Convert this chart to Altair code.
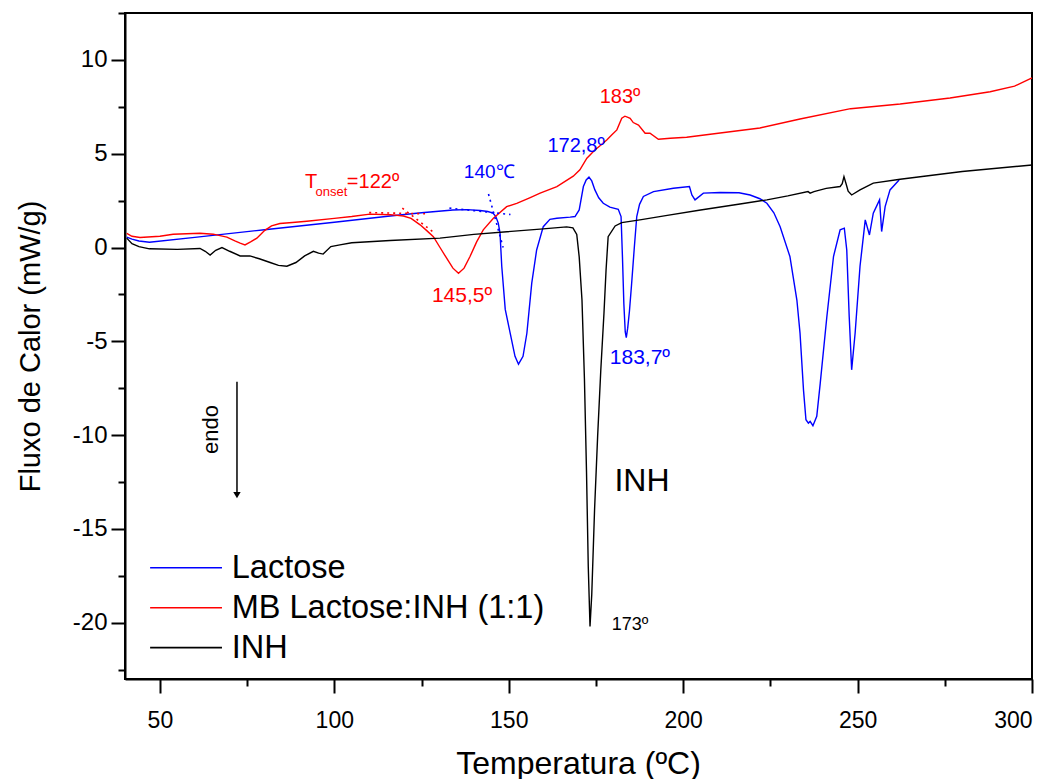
import altair as alt
import pandas as pd

# ---------------- data ----------------
series_names = ["Lactose", "MB Lactose:INH (1:1)", "INH"]
series_colors = ["#0000ff", "#ff0000", "#000000"]

lac_t = [40.5, 42, 44, 47, 60, 80, 100, 116, 125, 134, 138, 141.8, 144, 145.5, 146.3, 147, 147.5, 148, 149,
         150.4, 151.8, 152.8, 154.1, 155.2, 156.6, 158, 159.9, 161.8, 163.8, 167.6, 169, 170.2, 171.4, 172.2,
         173, 173.8, 174.7, 175.8, 177.1, 179, 181.4, 182.2, 182.6, 183.0, 183.4, 183.7, 184.1, 184.6, 185.2,
         186.0, 186.7, 187.5, 188.6, 191.5, 197.2, 201.8, 202.5, 203.4, 205.8, 210.6, 216, 219.2, 222, 224, 226,
         227.8, 230.6, 232.6, 233.5, 234.5, 235.2, 235.9, 236.4, 237.2, 238.3, 239.3, 241.2, 243.1, 245, 246.2,
         246.9, 247.6, 248.3, 249.3, 250.7, 252.2, 253.4, 254.5, 256.3, 256.9, 257.9, 259.3, 261.9]
lac_y = [0.55, 0.45, 0.35, 0.28, 0.54, 0.95, 1.35, 1.68, 1.85, 2.0, 2.02, 1.97, 1.92, 1.83, 1.65, 1.3, 0.78, -1.0, -3.3,
         -4.55, -5.8, -6.22, -5.8, -4.57, -1.9, -0.13, 1.11, 1.5, 1.56, 1.62, 1.65, 2.0, 3.25, 3.6,
         3.75, 3.55, 3.07, 2.65, 2.36, 2.15, 2.04, 1.65, -0.5, -3.0, -4.5, -4.8, -4.3, -3.4, -2.0,
         0.0, 1.65, 2.3, 2.72, 2.98, 3.16, 3.25, 2.8, 2.54, 2.9, 2.93, 2.92, 2.8, 2.6, 2.36, 1.85,
         1.11, -0.48, -2.8, -4.56, -7.6, -9.18, -9.36, -9.27, -9.5, -9.0, -7.23, -3.68, -0.48, 0.94, 1.03,
         -0.13, -3.68, -6.52, -4.56, -1.0, 1.47, 0.67, 1.83, 2.54, 0.85, 2.18, 3.07, 3.6]

mb_t = [40.5, 42, 44.3, 50, 53.8, 61.5, 65.3, 69.2, 71.5, 73, 74.4, 76, 77.8, 80, 82, 84.4, 88, 92.1, 100, 105,
        110.2, 116, 119.8, 122, 124.6, 126.5, 128.4, 130.3, 132.2, 134, 135.6, 137.2, 138.9, 140.8, 142.7,
        145.6, 149.4, 152.3, 156, 159, 163.8, 168.5, 170.4, 172.4, 174.7, 176, 178.1, 179.5, 181, 182.4,
        183.3, 184.0, 184.8, 185.7, 187.2, 189.1, 190.5, 192.9, 196.3, 201, 210.6, 222, 233.5, 248, 262.2,
        276.5, 288, 295, 300]
mb_y = [0.75, 0.6, 0.53, 0.6, 0.71, 0.76, 0.71, 0.55, 0.35, 0.23, 0.14, 0.3, 0.5, 0.9, 1.15, 1.28, 1.33, 1.4, 1.55, 1.65,
        1.78, 1.75, 1.68, 1.55, 1.21, 0.9, 0.58, 0.0, -0.57, -1.1, -1.37, -1.1, -0.48, 0.3, 0.94,
        1.56, 2.18, 2.35, 2.65, 2.9, 3.25, 3.8, 4.14, 4.76, 5.2, 5.4, 5.73, 6.0, 6.27, 6.89,
        7.0, 6.95, 6.89, 6.66, 6.53, 6.09, 6.09, 5.77, 5.82, 5.88, 6.1, 6.37, 6.85, 7.4, 7.65,
        7.97, 8.3, 8.6, 9.04]

inh_t = [40.5, 42, 44, 47, 55, 61.5, 63, 64.4, 66, 67.8, 70, 73, 75.8, 78.5, 81.6, 84, 86.4, 89, 91.5, 94, 95.5,
         96.8, 99, 101.6, 105, 116, 130.3, 140, 159, 166.6, 168.4, 169.5, 170.2, 171.0, 171.7, 172.3, 172.8,
         173.3, 173.8, 174.6, 175.5, 176.4, 177.3, 177.9, 178.5, 180.5, 182.4, 187.6, 195, 205, 216.3, 224,
         230, 235.8, 236.4, 237.5, 241, 245, 245.6, 246.1, 246.7, 247.3, 248.3, 250.7, 254.5, 262.2, 280, 300]
inh_y = [0.5, 0.2, 0.05, -0.07, -0.1, -0.05, -0.2, -0.4, -0.15, 0.0, -0.2, -0.45, -0.45, -0.6, -0.8, -0.95, -1.0,
         -0.8, -0.45, -0.2, -0.3, -0.35, 0.05, 0.14, 0.25, 0.37, 0.5, 0.7, 0.98, 1.1, 1.05, 0.7, -0.5, -2.8,
         -7.0, -12.0, -17.0, -20.2, -18.5, -14.0, -10.0, -6.5, -3.5, -1.2, 0.58, 1.15, 1.33, 1.47, 1.7, 2.0,
         2.32, 2.54, 2.75, 2.98, 2.9, 2.98, 3.15, 3.25, 3.4, 3.78, 3.4, 3.0, 2.8, 3.07, 3.43, 3.64, 4.05, 4.4]

# onset construction lines (dotted)
cons_id = ["lac_base", "lac_base", "lac_tan", "lac_tan", "mb_base", "mb_base", "mb_tan", "mb_tan"]
cons_series = ["Lactose", "Lactose", "Lactose", "Lactose",
               "MB Lactose:INH (1:1)", "MB Lactose:INH (1:1)", "MB Lactose:INH (1:1)", "MB Lactose:INH (1:1)"]
cons_t = [133, 150.5, 144.2, 148.4, 110, 126, 119.5, 128.5]
cons_y = [2.1, 1.76, 2.85, 0.0, 1.86, 1.8, 2.1, 0.8]

# annotations
ann_text = ["183º", "172,8º", "140℃", "145,5º", "183,7º", "INH", "173º"]
ann_t = [181.9, 169.3, 144.4, 136.6, 187.6, 188.2, 184.8]
ann_y = [8.0, 5.41, 4.03, -2.58, -5.88, -12.43, -20.1]
ann_color = ["#ff0000", "#0000ff", "#0000ff", "#ff0000", "#0000ff", "#000000", "#000000"]
ann_size = [20, 20, 19, 21, 21, 32, 18]

onset_text = ["T", "onset", "=122º"]
onset_t = [91.6, 94.6, 103.6]
onset_y = [3.47, 2.94, 3.47]
onset_size = [20, 13, 20]

# legend rows (drawn on the plot like the reference)
leg_t1 = [47.2, 47.2, 47.2]
leg_t2 = [67.8, 67.8, 67.8]
leg_y = [-17.07, -19.2, -21.33]
leg_text_t = [70.6, 70.6, 70.6]

# endo arrow
arrow_t = [72.1, 72.1]
arrow_y = [-7.16, -13.1]
arrow_head_y = [-13.2]
endo_t = [64.6]
endo_y = [-9.7]

# axis ticks
x_ticks = [50, 75, 100, 125, 150, 175, 200, 225, 250, 275, 300]
y_ticks = [-22.5, -20, -17.5, -15, -12.5, -10, -7.5, -5, -2.5, 0, 2.5, 5, 7.5, 10, 12.5]

# ---------------- tables ----------------
rows = []
for name, ts, ys in [("Lactose", lac_t, lac_y), ("MB Lactose:INH (1:1)", mb_t, mb_y), ("INH", inh_t, inh_y)]:
    for i, (t, y) in enumerate(zip(ts, ys)):
        rows.append({"series": name, "T": t, "Y": y, "i": i})
df = pd.DataFrame(rows)

cons_df = pd.DataFrame({"id": cons_id, "series": cons_series, "T": cons_t, "Y": cons_y})
ann_df = pd.DataFrame({"text": ann_text, "T": ann_t, "Y": ann_y, "c": ann_color, "s": ann_size})
onset_df = pd.DataFrame({"text": onset_text, "T": onset_t, "Y": onset_y, "s": onset_size})
leg_df = pd.DataFrame({"series": series_names, "T1": leg_t1, "T2": leg_t2, "Y": leg_y, "TT": leg_text_t})
arrow_df = pd.DataFrame({"T": [arrow_t[0]], "Y1": [arrow_y[0]], "Y2": [arrow_y[1]]})
head_df = pd.DataFrame({"T": [arrow_t[1]], "Y": arrow_head_y})
endo_df = pd.DataFrame({"T": endo_t, "Y": endo_y, "text": ["endo"]})

FONT = "Liberation Sans"

xscale = alt.Scale(domain=[40, 300], nice=False, zero=False)
yscale = alt.Scale(domain=[-23, 12.5], nice=False, zero=False)
cscale = alt.Scale(domain=series_names, range=series_colors)

xaxis = alt.Axis(
    values=x_ticks,
    labelExpr="datum.value % 50 === 0 ? '' + datum.value : ''",
    title="Temperatura (ºC)",
    grid=False,
    tickSize={"condition": {"test": "datum.value % 50 === 0", "value": 14}, "value": 7},
    labelPadding=16,
    labelFontSize=23,
    titleFontSize=32,
    titleX=453, titleY=84, titleBaseline="middle", titleAlign="center",
)
yaxis = alt.Axis(
    values=y_ticks,
    labelExpr="datum.value % 5 === 0 ? '' + datum.value : ''",
    title="Fluxo de Calor (mW/g)",
    grid=False,
    tickSize={"condition": {"test": "datum.value % 5 === 0", "value": 14}, "value": 7},
    labelPadding=4,
    labelFontSize=24,
    titleFontSize=29,
    titleX=-95, titleY=333, titleBaseline="middle", titleAlign="center", titleAngle=-90,
)

x_enc = alt.X("T:Q", scale=xscale, axis=xaxis)
y_enc = alt.Y("Y:Q", scale=yscale, axis=yaxis)

lines = alt.Chart(df).mark_line(strokeWidth=1.4).encode(
    x=x_enc, y=y_enc,
    color=alt.Color("series:N", scale=cscale, legend=None),
    order="i:Q",
)

cons = alt.Chart(cons_df).mark_line(strokeWidth=1.6, strokeDash=[2, 4]).encode(
    x=alt.X("T:Q", scale=xscale), y=alt.Y("Y:Q", scale=yscale),
    color=alt.Color("series:N", scale=cscale, legend=None),
    detail="id:N",
)

ann = alt.Chart(ann_df).mark_text(font=FONT, align="center", baseline="middle").encode(
    x=alt.X("T:Q", scale=xscale), y=alt.Y("Y:Q", scale=yscale),
    text="text:N",
    color=alt.Color("c:N", scale=None),
    size=alt.Size("s:Q", scale=None),
)

onset = alt.Chart(onset_df).mark_text(font=FONT, align="left", baseline="middle", color="#ff0000").encode(
    x=alt.X("T:Q", scale=xscale), y=alt.Y("Y:Q", scale=yscale),
    text="text:N",
    size=alt.Size("s:Q", scale=None),
)

leg_lines = alt.Chart(leg_df).mark_rule(strokeWidth=1.6).encode(
    x=alt.X("T1:Q", scale=xscale), x2="T2:Q", y=alt.Y("Y:Q", scale=yscale),
    color=alt.Color("series:N", scale=cscale, legend=None),
)
leg_text = alt.Chart(leg_df).mark_text(font=FONT, fontSize=32.5, align="left", baseline="middle", color="black").encode(
    x=alt.X("TT:Q", scale=xscale), y=alt.Y("Y:Q", scale=yscale),
    text="series:N",
)

arrow = alt.Chart(arrow_df).mark_rule(strokeWidth=1.5, color="black").encode(
    x=alt.X("T:Q", scale=xscale), y=alt.Y("Y1:Q", scale=yscale), y2="Y2:Q",
)
head = alt.Chart(head_df).mark_point(shape="triangle-down", filled=True, color="black", size=55, opacity=1).encode(
    x=alt.X("T:Q", scale=xscale), y=alt.Y("Y:Q", scale=yscale),
)
endo = alt.Chart(endo_df).mark_text(font=FONT, fontSize=22, angle=270, align="center", baseline="middle",
                                    color="black").encode(
    x=alt.X("T:Q", scale=xscale), y=alt.Y("Y:Q", scale=yscale),
    text="text:N",
)

chart = alt.layer(lines, cons, ann, onset, leg_lines, leg_text, arrow, head, endo).properties(
    width=907, height=666,
    autosize=alt.AutoSizeParams(type="none"),
    padding={"left": 117, "top": 5, "right": 20, "bottom": 100},
).configure_view(
    stroke="black", strokeWidth=2,
).configure_axis(
    domainColor="black", domainWidth=2, tickColor="black", tickWidth=2,
    labelFont=FONT, labelColor="black", titleFont=FONT, titleColor="black", titleFontWeight="normal",
)

chart.save("out.html", embed_options={"renderer": "svg", "actions": False})
